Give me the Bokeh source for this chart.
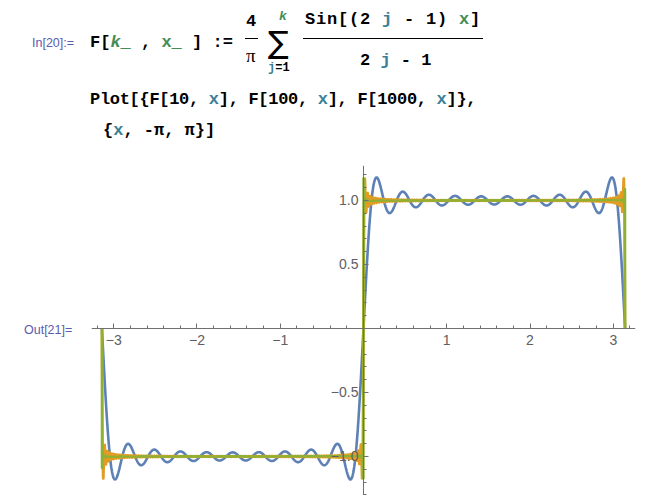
import numpy as np
from bokeh.plotting import figure
from bokeh.models import Range1d, LinearAxis, FixedTicker, Div
from bokeh.layouts import column, row
from bokeh.embed import file_html
from bokeh.resources import INLINE

# ---- data (as defined in the notebook cell) ----
k_values = [10, 100, 1000]
x_min, x_max = -np.pi, np.pi
n_samples = [1500, 3000, 6000]
colors = ["#5E81B5", "#E19C24", "#8FB032"]

x_ticks = [-3, -2, -1, 1, 2, 3]
x_tick_labels = ["\u22123", "\u22122", "\u22121", "1", "2", "3"]
y_ticks = [-1.0, -0.5, 0.5, 1.0]
y_tick_labels = ["\u22121.0", "\u22120.5", "0.5", "1.0"]
x_minor = [round(v, 1) for v in np.arange(-3.2, 3.21, 0.2) if abs(round(v, 1) - round(v)) > 1e-6]
y_minor = [round(v, 1) for v in np.arange(-1.3, 1.21, 0.1) if abs(round(v * 2, 1) - round(v * 2)) > 1e-6]


def F(k, x):
    j = np.arange(1, k + 1)[:, None]
    return 4 / np.pi * np.sum(np.sin((2 * j - 1) * x[None, :]) / (2 * j - 1), axis=0)


# ---- notebook text (Divs) ----
G = "#438C54"   # pattern green
T = "#3A7F98"   # symbol teal
LBL = "#5B5BAE"


def sp(left, cy, html, size=17, lh=20, extra="", oy=0):
    top = cy - lh / 2 - oy
    return (f'<span style="position:absolute;left:{left}px;top:{top}px;'
            f'line-height:{lh}px;font-size:{size}px;white-space:pre;{extra}">{html}</span>')


def c(t, col):
    return f'<span style="color:{col}">{t}</span>'


parts = [
    sp(32, 43, "In[20]:=", size=12.5, extra=f"font-family:'Liberation Sans';font-weight:normal;color:{LBL};"),
    sp(90, 43, "F[" + c("<i>k</i>_", G) + " , " + c("x_", G) + " ] :="),
    sp(246, 22, "4"),
    '<div style="position:absolute;left:245px;top:37.5px;width:13px;height:1.4px;background:#000"></div>',
    sp(246, 56, "\u03c0", size=19, extra="font-family:'Liberation Serif';font-weight:normal;"),
    sp(268, 42, "\u2211", size=31, lh=34, extra="font-family:'DejaVu Sans';font-weight:normal;"),
    sp(279, 17, c("<i>k</i>", G), size=13),
    sp(268, 68, c("j", T) + "=1", size=12),
    sp(305, 20, "Sin[(2 " + c("j", T) + " - 1) " + c("x", G) + "]", extra="letter-spacing:0.8px;"),
    '<div style="position:absolute;left:303px;top:37.5px;width:180px;height:1.4px;background:#000"></div>',
    sp(360, 61, "2 " + c("j", T) + " - 1"),
    sp(90, 100, "Plot[{F[10, " + c("x", T) + "], F[100, " + c("x", T) + "], F[1000, " + c("x", T) + "]},",
       extra="letter-spacing:-0.3px;"),
    sp(103, 131, "{" + c("x", T) + ", -\u03c0, \u03c0}]"),
]
top_html = ('<div style="position:relative;width:646px;height:150px;'
            "font-family:'Liberation Mono';font-weight:bold;color:#000;\">" + "".join(parts) + "</div>")
div_top = Div(text=top_html, width=646, height=150, margin=(0, 0, 0, 0))

out_html = ('<div style="position:relative;width:91px;height:345px;">'
            + sp(24, 330, "Out[21]=", size=12.5, oy=150,
                 extra=f"font-family:'Liberation Sans';color:{LBL};")
            + "</div>")
div_out = Div(text=out_html, width=91, height=345, margin=(0, 0, 0, 0))

# ---- plot ----
p = figure(width=555, height=345, x_range=Range1d(-3.267, 3.267), y_range=Range1d(-1.305, 1.273),
           output_backend="svg", toolbar_location=None, x_axis_location=None, y_axis_location=None,
           min_border_left=0, min_border_right=11, min_border_top=15, min_border_bottom=0,
           margin=(0, 0, 0, 0))
p.grid.visible = False
p.outline_line_color = None
p.background_fill_color = "white"

for k, n, col in zip(k_values, n_samples, colors):
    xs = np.linspace(x_min, x_max, n)
    p.line(xs, F(k, xs), line_color=col, line_width=2.6)

axis_style = dict(axis_line_color="#707070", axis_line_width=1,
                  major_tick_line_color="#707070", minor_tick_line_color="#707070",
                  major_tick_in=5, major_tick_out=0, minor_tick_in=3, minor_tick_out=0,
                  major_label_text_font="Liberation Sans", major_label_text_font_size="14px",
                  major_label_text_color="#606060")

xaxis = LinearAxis(fixed_location=0, ticker=FixedTicker(ticks=x_ticks, minor_ticks=x_minor),
                   major_label_overrides=dict(zip(x_ticks, x_tick_labels)),
                   major_label_standoff=7, **axis_style)
yaxis = LinearAxis(fixed_location=0, ticker=FixedTicker(ticks=y_ticks, minor_ticks=y_minor),
                   major_label_overrides=dict(zip(y_ticks, y_tick_labels)),
                   major_label_standoff=5, **axis_style)
p.add_layout(xaxis, "below")
p.add_layout(yaxis, "left")

layout = column(div_top, row(div_out, p, spacing=0), spacing=0)
open("out.html", "w").write(file_html(layout, INLINE))
